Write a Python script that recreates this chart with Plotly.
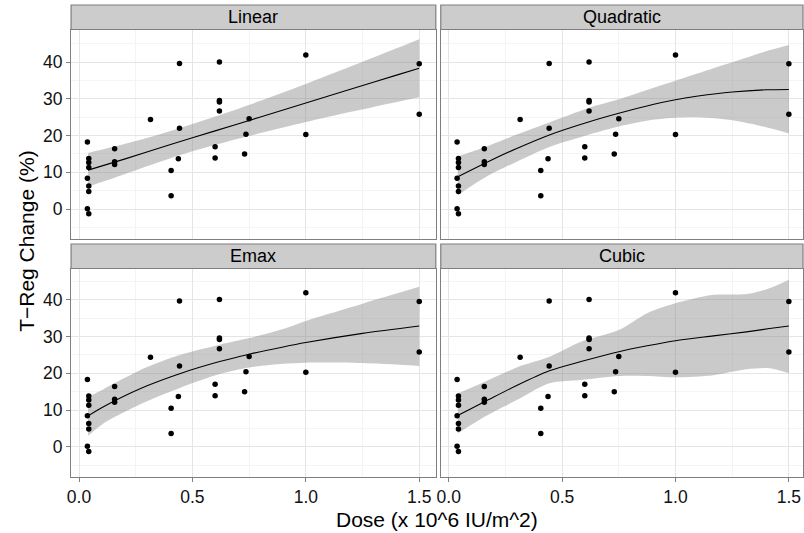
import plotly.graph_objects as go

# ---------------- data ----------------
dose = [0.037, 0.043, 0.043, 0.043, 0.037, 0.043, 0.043, 0.037, 0.043,
        0.157, 0.157, 0.157, 0.315, 0.406, 0.406, 0.443, 0.443, 0.438,
        0.60, 0.60, 0.619, 0.619, 0.619, 0.619, 0.73, 0.736, 0.75,
        1.0, 1.0, 1.5, 1.5]
treg = [18.3, 13.8, 12.7, 11.3, 8.4, 6.3, 4.8, 0.1, -1.3,
        16.4, 12.9, 12.1, 24.4, 10.5, 3.6, 39.7, 22.0, 13.7,
        17.0, 13.9, 40.1, 29.6, 29.2, 26.7, 15.0, 20.4, 24.6,
        42.0, 20.3, 39.6, 25.8]

panels = ["Linear", "Quadratic", "Emax", "Cubic"]

lin_x = [0.04, 0.2, 0.4, 0.6, 0.8, 1.0, 1.2, 1.4, 1.5]
lin_fit = [10.6, 13.6, 17.5, 21.3, 25.1, 28.9, 32.7, 36.5, 38.4]
lin_up = [15.3, 17.7, 21.2, 25.2, 29.5, 34.1, 38.9, 43.8, 46.3]
lin_lo = [6.1, 9.5, 13.8, 17.5, 20.7, 23.7, 26.5, 29.2, 30.5]

quad_x = [0.04, 0.16, 0.3, 0.444, 0.62, 0.75, 0.9, 1.0, 1.1, 1.25, 1.4, 1.5]
quad_fit = [8.8, 12.5, 16.5, 20.2, 23.8, 26.1, 28.5, 29.8, 30.8, 31.9, 32.5, 32.6]
quad_up = [14.3, 16.9, 20.3, 23.6, 27.6, 29.9, 33.0, 35.0, 37.0, 40.0, 43.0, 44.7]
quad_lo = [3.8, 8.6, 12.9, 16.9, 20.3, 22.5, 24.3, 24.9, 25.0, 24.2, 22.3, 20.6]

emax_x = [0.04, 0.1, 0.16, 0.3, 0.444, 0.62, 0.75, 0.9, 1.0, 1.25, 1.5]
emax_fit = [8.4, 10.6, 12.6, 16.6, 19.9, 23.2, 25.2, 27.2, 28.4, 30.9, 32.9]
emax_up = [13.6, 15.4, 17.4, 21.7, 25.0, 27.8, 29.6, 32.1, 34.3, 39.0, 43.6]
emax_lo = [3.0, 6.0, 8.2, 12.4, 16.0, 19.8, 21.6, 22.6, 22.9, 22.8, 22.0]

cub_x = [0.04, 0.16, 0.3, 0.444, 0.583, 0.75, 0.875, 1.0, 1.167, 1.313, 1.415, 1.5]
cub_fit = [8.5, 12.3, 16.7, 20.7, 23.2, 25.9, 27.5, 28.9, 30.2, 31.3, 32.2, 32.9]
cub_up = [14.5, 17.7, 21.6, 24.5, 28.6, 31.8, 36.4, 39.1, 41.4, 41.6, 43.2, 45.5]
cub_lo = [3.6, 8.2, 12.7, 17.3, 18.2, 19.3, 19.3, 18.9, 19.5, 21.1, 21.4, 20.0]

x_ticks = [0.0, 0.5, 1.0, 1.5]
x_ticklabels = ["0.0", "0.5", "1.0", "1.5"]
y_ticks = [0, 10, 20, 30, 40]
y_ticklabels = ["0", "10", "20", "30", "40"]

fits = [
    (lin_x, lin_fit, lin_lo, lin_up),
    (quad_x, quad_fit, quad_lo, quad_up),
    (emax_x, emax_fit, emax_lo, emax_up),
    (cub_x, cub_fit, cub_lo, cub_up),
]

# ---------------- layout geometry ----------------
W, H = 804, 533
def fx(px):
    return px / W
def fy(py):
    return (H - py) / H

col_dom = [(fx(67.5), fx(434.5)), (fx(439.5), 1.0)]
row_dom = [(fy(239.0), fy(29.5)), (fy(476.5), fy(268.5))]
strip_dom = [(fy(29.5), fy(5.0)), (fy(268.5), fy(244.0))]
xranges = [[-0.035, 1.573], [-0.035, 1.5623]]
yranges = [[-8.18, 48.94], [-8.13, 48.58]]

FONT = "Liberation Sans, Arial, sans-serif"
ribbon_fill = "rgba(128,128,128,0.42)"
TICK_SIZE = 17.5
STRIP_SIZE = 18
TITLE_SIZE = 21

fig = go.Figure()
layout = dict(
    width=W, height=H,
    margin=dict(l=0, r=0, t=0, b=0),
    paper_bgcolor="white", plot_bgcolor="white",
    showlegend=False,
    font=dict(family=FONT, color="black"),
)

shapes = []
annotations = []

for i, name in enumerate(panels):
    r, c = divmod(i, 2)
    ax = "" if i == 0 else str(i + 1)
    xa, ya = "x" + ax, "y" + ax
    xs, fit, lo, up = fits[i]

    fig.add_trace(go.Scatter(x=xs, y=lo, xaxis=xa, yaxis=ya, mode="lines",
                             line=dict(width=0, shape="spline", smoothing=0.8),
                             hoverinfo="skip"))
    fig.add_trace(go.Scatter(x=xs, y=up, xaxis=xa, yaxis=ya, mode="lines",
                             line=dict(width=0, shape="spline", smoothing=0.8),
                             fill="tonexty", fillcolor=ribbon_fill,
                             hoverinfo="skip"))
    fig.add_trace(go.Scatter(x=xs, y=fit, xaxis=xa, yaxis=ya, mode="lines",
                             line=dict(color="black", width=1.1, shape="spline", smoothing=0.8)))
    fig.add_trace(go.Scatter(x=dose, y=treg, xaxis=xa, yaxis=ya, mode="markers",
                             marker=dict(color="black", size=5.5)))

    xkey = "xaxis" + ax
    ykey = "yaxis" + ax
    layout[xkey] = dict(
        domain=list(col_dom[c]), anchor=ya, range=xranges[c],
        tickvals=x_ticks, ticktext=x_ticklabels,
        showticklabels=(r == 1), ticks="outside" if r == 1 else "",
        ticklen=4, tickwidth=1, tickcolor="#7f7f7f",
        tickfont=dict(family=FONT, size=TICK_SIZE, color="#111111"),
        showgrid=True, gridcolor="#e5e5e5", gridwidth=1,
        minor=dict(tickvals=[0.25, 0.75, 1.25], showgrid=True,
                   gridcolor="#f4f4f4", gridwidth=1, ticks=""),
        showline=True, mirror=True, linecolor="#7f7f7f", linewidth=1.2,
        zeroline=False, fixedrange=True,
    )
    layout[ykey] = dict(
        domain=list(row_dom[r]), anchor=xa, range=yranges[r],
        tickvals=y_ticks, ticktext=y_ticklabels,
        showticklabels=(c == 0), ticks="outside" if c == 0 else "",
        ticklen=4, tickwidth=1, tickcolor="#7f7f7f",
        tickfont=dict(family=FONT, size=TICK_SIZE, color="#111111"),
        showgrid=True, gridcolor="#e5e5e5", gridwidth=1,
        minor=dict(tickvals=[-5, 5, 15, 25, 35, 45], showgrid=True,
                   gridcolor="#f4f4f4", gridwidth=1, ticks=""),
        showline=True, mirror=True, linecolor="#7f7f7f", linewidth=1.2,
        zeroline=False, fixedrange=True,
    )

    # strip
    x0, x1 = col_dom[c]
    s0, s1 = strip_dom[r]
    shapes.append(dict(type="rect", xref="paper", yref="paper",
                       x0=x0, x1=x1, y0=s0, y1=s1,
                       fillcolor="#cccccc", line=dict(color="#7f7f7f", width=1.2)))
    annotations.append(dict(text=name, xref="paper", yref="paper",
                            x=(x0 + x1) / 2, y=(s0 + s1) / 2,
                            xanchor="center", yanchor="middle", showarrow=False,
                            font=dict(family=FONT, size=STRIP_SIZE, color="black")))

annotations.append(dict(text="Dose (x 10^6 IU/m^2)", xref="paper", yref="paper",
                        x=fx(436), y=fy(519), xanchor="center", yanchor="middle",
                        showarrow=False, font=dict(family=FONT, size=TITLE_SIZE, color="black")))
annotations.append(dict(text="T\u2212Reg Change (%)", xref="paper", yref="paper",
                        x=fx(22), y=fy(241), xanchor="center", yanchor="middle",
                        textangle=-90, showarrow=False,
                        font=dict(family=FONT, size=TITLE_SIZE, color="black")))

layout["shapes"] = shapes
layout["annotations"] = annotations
fig.update_layout(**layout)

fig.write_html("out.html")
